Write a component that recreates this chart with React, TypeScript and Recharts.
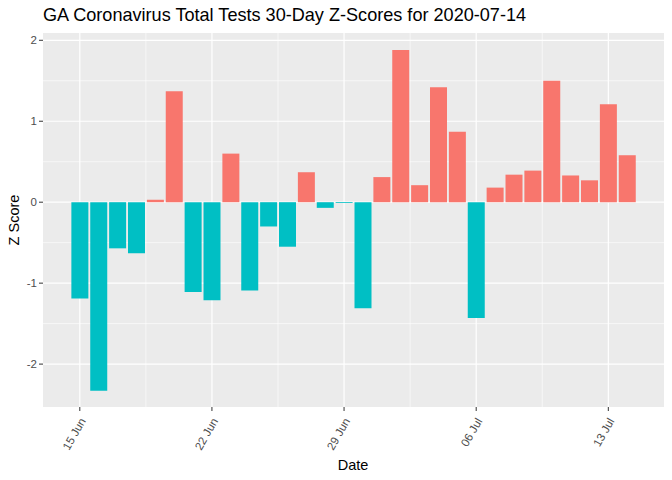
import React from "react";
import { BarChart, Bar, XAxis, YAxis, CartesianGrid, Cell } from "recharts";

const dates: string[] = [
  "Jun 15", "Jun 16", "Jun 17", "Jun 18", "Jun 19", "Jun 20", "Jun 21", "Jun 22", "Jun 23", "Jun 24",
  "Jun 25", "Jun 26", "Jun 27", "Jun 28", "Jun 29", "Jun 30", "Jul 1", "Jul 2", "Jul 3", "Jul 4",
  "Jul 5", "Jul 6", "Jul 7", "Jul 8", "Jul 9", "Jul 10", "Jul 11", "Jul 12", "Jul 13", "Jul 14",
];
const zScores: number[] = [
  -1.19, -2.33, -0.57, -0.63, 0.03, 1.37, -1.11, -1.21, 0.6, -1.09,
  -0.3, -0.55, 0.37, -0.07, -0.01, -1.31, 0.31, 1.88, 0.21, 1.42,
  0.87, -1.43, 0.18, 0.34, 0.39, 1.5, 0.33, 0.27, 1.21, 0.58,
];
const xTickDays: number[] = [0, 7, 14, 21, 28];
const xTickLabels: string[] = ["15 Jun", "22 Jun", "29 Jun", "06 Jul", "13 Jul"];
const xMinorDays: number[] = [3.5, 10.5, 17.5, 24.5];
const yTicks: number[] = [-2, -1, 0, 1, 2];
const yMinor: number[] = [-1.5, -0.5, 0.5, 1.5];

const data = dates.map((date, i) => ({ day: i, date, z: zScores[i] }));

const FONT = "Arial, 'Liberation Sans', sans-serif";

const XTick = (props: any) => {
  const { x, y, payload } = props;
  const idx = xTickDays.indexOf(payload.value);
  const label = idx >= 0 ? xTickLabels[idx] : "";
  return (
    <text
      x={x + 3}
      y={y + 6}
      transform={`rotate(-60 ${x + 3} ${y + 6})`}
      textAnchor="end"
      dominantBaseline="central"
      fill="#4D4D4D"
      fontSize={11.5}
      fontFamily={FONT}
    >
      {label}
    </text>
  );
};

export default function App() {
  return (
    <div style={{ position: "absolute", left: 0, top: 0, width: 672, height: 480, background: "#fff", fontFamily: FONT }}>
      <div style={{ position: "absolute", left: 43, top: 5, fontSize: 18.1, lineHeight: "20px", color: "#000", whiteSpace: "nowrap" }}>
        GA Coronavirus Total Tests 30-Day Z-Scores for 2020-07-14
      </div>
      <div
        style={{
          position: "absolute",
          left: 14,
          top: 220,
          transform: "translate(-50%, -50%) rotate(-90deg)",
          fontSize: 14.5,
          whiteSpace: "nowrap",
        }}
      >
        Z Score
      </div>
      <div
        style={{
          position: "absolute",
          left: 353,
          top: 465,
          transform: "translate(-50%, -50%)",
          fontSize: 14.5,
          whiteSpace: "nowrap",
        }}
      >
        Date
      </div>
      <div style={{ position: "absolute", left: 0, top: 0 }}>
        <BarChart width={672} height={480} data={data} margin={{ top: 33, right: 8, left: 13, bottom: 0 }}>
          <CartesianGrid
            fill="#EBEBEB"
            stroke="#FFFFFF"
            strokeWidth={0.6}
            horizontalValues={yMinor}
            verticalValues={xMinorDays}
          />
          <CartesianGrid
            fill="none"
            stroke="#FFFFFF"
            strokeWidth={1.2}
            horizontalValues={yTicks}
            verticalValues={xTickDays}
          />
          <XAxis
            dataKey="day"
            type="number"
            domain={[-1.95, 30.95]}
            ticks={xTickDays}
            allowDataOverflow
            height={73}
            axisLine={false}
            tickLine={{ stroke: "#333333" }}
            tickSize={4}
            tick={<XTick />}
            interval={0}
          />
          <YAxis
            type="number"
            domain={[-2.53, 2.09]}
            ticks={yTicks}
            allowDataOverflow
            width={30}
            axisLine={false}
            tickLine={{ stroke: "#333333" }}
            tickSize={4}
            tick={{ fill: "#4D4D4D", fontSize: 11.5, fontFamily: FONT }}
            interval={0}
          />
          <Bar dataKey="z" barSize={17} isAnimationActive={false}>
            {data.map((d, i) => (
              <Cell key={i} fill={d.z >= 0 ? "#F8766D" : "#00BFC4"} />
            ))}
          </Bar>
        </BarChart>
      </div>
    </div>
  );
}
